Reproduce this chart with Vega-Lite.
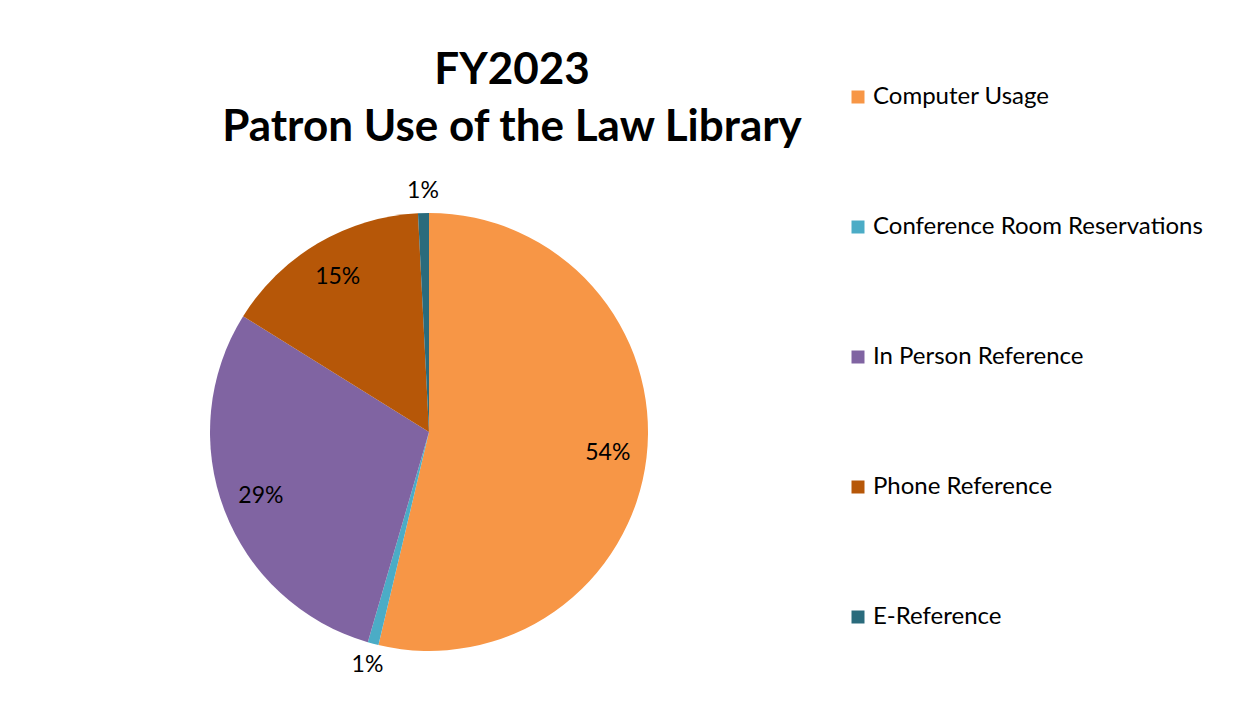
{
  "$schema": "https://vega.github.io/schema/vega-lite/v6.json",
  "width": 438,
  "height": 438,
  "autosize": {"type": "none"},
  "padding": {"left": 210, "top": 213, "right": 604, "bottom": 58},
  "background": "white",
  "data": {
    "values": [
      {"category": "Computer Usage", "value": 0.536, "order": 1},
      {"category": "Conference Room Reservations", "value": 0.008, "order": 2},
      {"category": "In Person Reference", "value": 0.293, "order": 3},
      {"category": "Phone Reference", "value": 0.153, "order": 4},
      {"category": "E-Reference", "value": 0.008, "order": 5}
    ]
  },
  "title": {
    "text": ["FY2023", "Patron Use of the Law Library"],
    "font": "Lato",
    "fontSize": 44,
    "fontWeight": "bold",
    "color": "black",
    "anchor": "middle",
    "frame": "group",
    "dx": 83,
    "lineHeight": 57,
    "offset": -109,
    "baseline": "bottom"
  },
  "encoding": {
    "theta": {"field": "value", "type": "quantitative", "stack": true},
    "order": {"field": "order", "type": "quantitative"},
    "color": {
      "field": "category",
      "type": "nominal",
      "scale": {
        "domain": ["Computer Usage", "Conference Room Reservations", "In Person Reference", "Phone Reference", "E-Reference"],
        "range": ["#F79646", "#4BACC6", "#8064A2", "#B65708", "#2A6B7C"]
      },
      "legend": {
        "title": null,
        "orient": "none",
        "legendX": 636,
        "legendY": -128,
        "symbolType": "square",
        "symbolSize": 169,
        "symbolStrokeWidth": 0,
        "symbolOpacity": 1,
        "labelFont": "Lato",
        "labelFontSize": 24,
        "labelColor": "black",
        "labelOffset": 3,
        "rowPadding": 106,
        "labelLimit": 500
      }
    }
  },
  "layer": [
    {"mark": {"type": "arc", "outerRadius": 219}},
    {
      "mark": {"type": "text", "radius": 180, "font": "Lato", "fontSize": 23, "color": "black"},
      "encoding": {
        "text": {"condition": {"test": "datum.value > 0.05", "field": "value", "type": "quantitative", "format": ".0%"}, "value": ""},
        "color": {"value": "black"}
      }
    },
    {
      "mark": {"type": "text", "radius": 241, "font": "Lato", "fontSize": 23, "color": "black"},
      "encoding": {
        "text": {"condition": {"test": "datum.value <= 0.05", "field": "value", "type": "quantitative", "format": ".0%"}, "value": ""},
        "color": {"value": "black"}
      }
    }
  ],
  "config": {"view": {"stroke": null}}
}
